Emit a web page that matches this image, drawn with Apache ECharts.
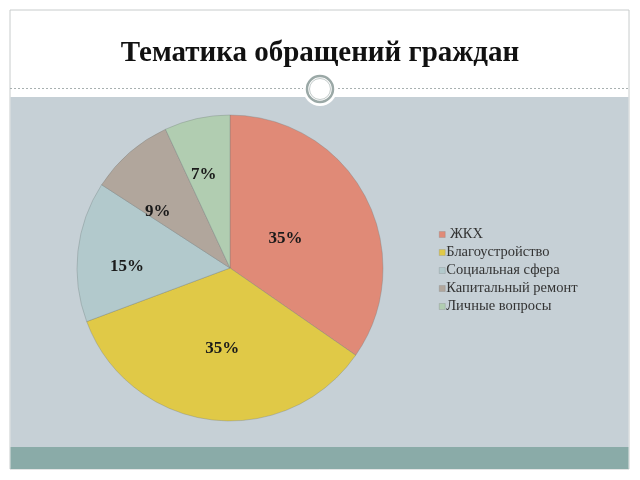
<!DOCTYPE html>
<html><head><meta charset="utf-8">
<script src="https://cdn.jsdelivr.net/npm/echarts@6/dist/echarts.min.js"></script>
<style>html,body{margin:0;padding:0;background:#fff}#c{width:640px;height:480px}</style>
</head><body><div id="c"></div>
<script>
var categories = [' ЖКХ', 'Благоустройство', 'Социальная сфера', 'Капитальный ремонт', 'Личные вопросы'];
var values = [35, 35, 15, 9, 7];
var labels = ['35%', '35%', '15%', '9%', '7%'];
var colors = ['#e08a77', '#e0c947', '#b2c9cc', '#b1a69c', '#b1cdb1'];
var labelShift = [[-15, 7], [2, 2], [-24, 7], [-20, 4], [-9, -16]];

var chart = echarts.init(document.getElementById('c'));
chart.setOption({
  animation: false,
  backgroundColor: '#ffffff',
  graphic: [
    {type: 'rect', z: -10, shape: {x: 10, y: 10, width: 619, height: 459}, style: {fill: '#ffffff', stroke: '#c8cccc', lineWidth: 1}},
    {type: 'rect', z: -9, shape: {x: 10.5, y: 97, width: 618, height: 350}, style: {fill: '#c6d0d6'}},
    {type: 'rect', z: -9, shape: {x: 10.5, y: 447, width: 618, height: 22}, style: {fill: '#8aaba8'}},
    {type: 'line', z: -8, shape: {x1: 10, y1: 88.5, x2: 629, y2: 88.5}, style: {stroke: '#a8b0b0', lineWidth: 1, lineDash: [2, 2]}},
    {type: 'circle', z: -7, shape: {cx: 320, cy: 89, r: 17}, style: {fill: '#ffffff'}},
    {type: 'circle', z: -6, shape: {cx: 320, cy: 89, r: 13}, style: {fill: '#ffffff', stroke: '#9aa8a6', lineWidth: 2.5}},
    {type: 'circle', z: -6, shape: {cx: 320, cy: 89, r: 10.5}, style: {fill: 'none', stroke: '#c4cccb', lineWidth: 1}}
  ],
  title: {
    text: 'Тематика обращений граждан',
    left: 'center',
    top: 34,
    textStyle: {fontFamily: 'Liberation Serif', fontWeight: 'bold', fontSize: 29, color: '#111'}
  },
  legend: {
    orient: 'vertical',
    left: 434,
    top: 222,
    itemWidth: 6,
    itemHeight: 6,
    itemGap: 3,
    icon: 'rect',
    itemStyle: {borderWidth: 0.5, borderColor: 'rgba(120,120,120,0.5)'},
    data: categories,
    textStyle: {fontFamily: 'Liberation Serif', fontSize: 14.5, lineHeight: 15, color: '#333', padding: [0, 0, 0, -4]}
  },
  series: [{
    type: 'pie',
    center: [230, 268],
    radius: [0, 153],
    startAngle: 90,
    clockwise: true,
    color: colors,
    itemStyle: {borderColor: 'rgba(110,120,120,0.4)', borderWidth: 0.8},
    label: {
      show: true,
      position: 'inside',
      formatter: function (p) { return labels[p.dataIndex]; },
      fontFamily: 'Liberation Serif',
      fontWeight: 'bold',
      fontSize: 17,
      color: '#1a1a1a'
    },
    labelLayout: function (p) {
      var s = labelShift[p.dataIndex];
      return {dx: s[0], dy: s[1]};
    },
    emphasis: {disabled: true},
    data: categories.map(function (c, i) { return {name: c, value: values[i]}; })
  }]
});
</script></body></html>
